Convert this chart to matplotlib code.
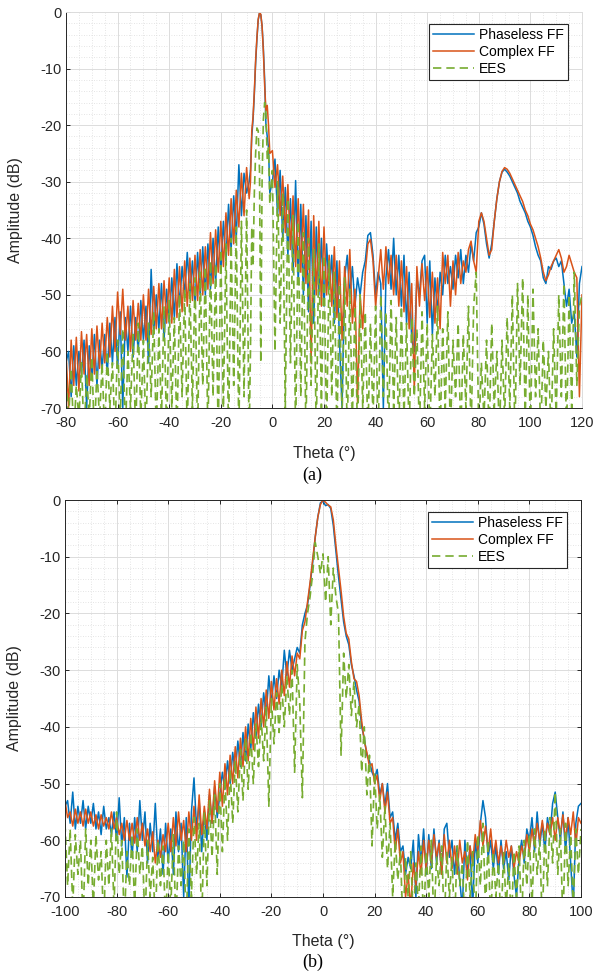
import numpy as np
import matplotlib
matplotlib.use('Agg')
import matplotlib.pyplot as plt
from matplotlib.ticker import MultipleLocator

plt.rcParams['font.family'] = ['Liberation Sans', 'DejaVu Sans']
plt.rcParams['axes.unicode_minus'] = False

# ---------------- panel (a): theta -80..120, 1 deg steps ----------------
theta_a = np.arange(-80, 121)
# extra half-degree samples across the main beam
theta_a_fine = [-8.5, -7.5, -6.5, -5.5, -4.5, -3.5, -2.5, -1.5]

phaseless_a = [
    -62, -60, -68, -59, -66, -60, -64, -58, -70, -59,          # -80
    -65, -57, -66, -58, -63, -57, -64, -55, -62, -54,          # -70
    -63, -53, -70, -54, -60, -52, -61, -54, -60, -51,          # -60
    -58, -52, -62, -45.5, -57, -50, -56, -48, -58, -49,        # -50
    -55, -47, -54, -44.5, -52, -45, -50, -42.5, -50, -44,      # -40
    -52, -42.5, -50, -41.5, -50, -41, -49, -40, -48, -38,      # -30
    -46, -37, -44, -34, -42, -32.5, -40, -27, -36, -28.5,      # -20
    -32, -30, -22, -14.5, -4.8, -0.2, -2.5, -12, -22, -32,     # -10
    -30, -26, -36, -28, -40, -31, -43, -33, -46, -29.8,        # 0
    -48, -34, -50, -36, -53, -37, -55, -38, -50, -40,          # 10
    -52, -41, -49, -43, -55, -44, -58, -70, -47, -43,          # 20
    -50, -45, -52, -47, -50, -46, -44, -39.5, -39, -43,        # 30
    -50, -46, -48, -70, -47, -42, -49, -40, -50, -43,          # 40
    -52, -43, -55, -46, -58, -60, -47, -50, -44, -43,          # 50
    -55, -44, -57, -47, -53, -46, -50, -43, -48, -45,          # 60
    -49, -43, -47, -42, -48, -43, -46, -41, -44, -39,          # 70
    -38, -35.5, -37.5, -41, -43.5, -41, -37, -33, -30, -28.3,  # 80
    -27.8, -28.3, -29, -30, -31, -32, -33.5, -34.5, -35.5, -37,  # 90
    -38, -39.5, -41.5, -43, -44, -47, -48, -45, -45.5, -44,    # 100
    -43.5, -45, -44, -48, -52, -49, -55, -53, -61, -48,        # 110
    -45]                                                       # 120
phaseless_a_fine = [-28, -19, -9, -1.4, -0.5, -6.5, -20, -24]

complex_a = [
    -60, -70, -58, -66, -57.5, -67, -56.5, -64, -57, -66,      # -80
    -56, -64, -55.5, -63, -55, -62, -54, -61, -52, -60,        # -70
    -49.5, -57, -49, -58, -52, -60, -51, -58, -51.5, -58,      # -60
    -50, -58, -49, -57, -48.5, -56, -48, -56, -47.5, -55,      # -50
    -47, -55, -45.5, -54, -45, -53, -44, -52, -43.5, -51,      # -40
    -43, -51, -42, -50, -41.5, -49, -39, -48, -38.5, -46,      # -30
    -37, -45, -35.5, -43, -33, -41, -31.5, -38, -28.5, -36,    # -20
    -27.5, -33, -21, -14, -4.5, -0.1, -2.5, -13, -16.5, -25,   # -10
    -24.5, -31, -27, -36, -29, -39, -30.5, -42, -32.5, -45,    # 0
    -33, -46, -34, -48, -35, -62, -36, -50, -37, -52,          # 10
    -38, -50, -43, -52, -41.5, -54, -44, -58, -45, -52,        # 20
    -42, -55, -49, -69, -50, -56, -46, -41, -40.2, -44,        # 30
    -52, -47, -42, -49, -41.5, -48, -43, -50, -43, -52,        # 40
    -44, -53, -45, -56, -48, -67, -45, -52, -44.5, -51,        # 50
    -45, -54, -46, -55, -47, -56, -42.5, -48, -43, -52,        # 60
    -44, -50, -42.5, -48, -44, -46, -42, -40.5, -44, -46,      # 70
    -37, -35.5, -37, -40, -43, -42, -37, -33, -30, -28.2,      # 80
    -27.5, -27.8, -28.5, -29.5, -30.5, -31.5, -32.5, -33.5, -35, -36,  # 90
    -37.5, -38.5, -40, -41.5, -43.5, -46, -47.5, -46.5, -45, -44,      # 100
    -43, -42, -43.5, -46, -45, -43, -44.5, -46, -47, -68,      # 110
    -50]                                                       # 120
complex_a_fine = [-30, -18.5, -8.5, -1.3, -0.4, -7, -17.5, -20]

ees_a = [
    -65, -72, -63, -75, -66, -72, -62, -75, -64, -72,          # -80
    -61, -75, -63, -72, -62, -75, -60, -70, -62, -75,          # -70
    -58, -72, -56, -75, -60, -70, -57, -75, -55, -72,          # -60
    -58, -75, -55, -68, -53, -75, -56, -72, -52, -75,          # -50
    -51, -70, -54, -75, -50, -68, -49, -75, -48, -70,          # -40
    -47, -75, -46, -66, -45, -75, -44, -68, -44.5, -75,        # -30
    -42, -70, -41, -75, -40, -66, -38, -75, -37, -68,          # -20
    -35, -75, -38, -32, -20.5, -28, -30, -16, -26, -34,        # -10
    -28, -60, -30, -55, -32, -70, -33, -62, -36, -75,          # 0
    -37, -68, -39, -75, -40, -66, -42, -75, -41, -70,          # 10
    -43, -75, -44, -68, -46, -75, -48, -72, -47, -75,          # 20
    -49, -72, -52, -75, -50, -70, -53, -75, -55, -72,          # 30
    -52, -75, -50, -68, -53, -75, -51, -70, -54, -75,          # 40
    -52, -72, -55, -75, -54, -68, -56, -75, -53, -70,          # 50
    -55, -75, -57, -68, -52, -75, -56, -70, -53, -75,          # 60
    -58, -68, -55, -75, -57, -70, -52, -75, -52, -46,          # 70
    -75, -62, -72, -58, -75, -55, -70, -60, -75, -58,          # 80
    -72, -54, -70, -50, -75, -48, -66, -47, -72, -50,          # 90
    -75, -49, -68, -56, -75, -58, -70, -60, -75, -56,          # 100
    -72, -50, -68, -48, -75, -50, -70, -46, -66, -52,          # 110
    -50]                                                       # 120
ees_a_fine = [-60, -45, -25, -21, -62, -19, -18, -24]

# ---------------- panel (b): theta -100..100, 1 deg steps ----------------
theta_b = np.arange(-100, 101)

phaseless_b = [
    -54, -53, -57, -51.5, -58, -54, -57, -53, -58, -54,        # -100
    -57, -53.5, -58, -55, -59, -54, -58, -56, -59, -55,        # -90
    -60, -52.5, -61, -56, -66.5, -57, -63, -56, -62, -53,      # -80
    -60, -55, -64, -57, -62, -53.5, -63, -58, -66, -57,        # -70
    -64, -58, -66, -55, -62, -57, -70, -56, -72, -55,          # -60
    -49, -58, -53, -62, -55, -60, -52, -57, -50.5, -56,        # -50
    -52, -48, -51, -46, -50, -44.5, -48, -42.5, -47, -41,      # -40
    -46, -39.5, -44, -37.5, -42, -36, -40, -34, -38, -31,      # -30
    -36, -31, -35, -30, -33, -26.5, -31, -26.5, -30, -28,      # -20
    -26, -27, -22, -20, -18.5, -15, -11, -6.5, -3, -0.5,       # -10
    -0.2, -1, -0.8, -1.5, -4.5, -9, -13.5, -17.5, -21.5, -24,  # 0
    -25.5, -29, -31, -33.5, -35.5, -40, -42, -45, -46, -48,    # 10
    -49, -47.5, -52, -50, -54, -50, -56, -55, -60, -57,        # 20
    -62, -61, -66, -63, -65, -60, -70, -59, -64, -58,          # 30
    -66, -59, -65, -58, -64, -60, -66, -58, -57, -63,          # 40
    -60, -66, -61, -67, -72, -60, -66, -61, -72, -60,          # 50
    -64, -57, -53, -56, -63, -60, -65, -61, -66, -60,          # 60
    -65, -62, -67, -61, -66, -70, -63, -60, -64, -58,          # 70
    -60, -56, -62, -55, -61, -57, -62, -56, -59, -53.5,        # 80
    -51.5, -56, -60, -55, -62, -56, -64, -72, -57, -54,        # 90
    -53.5]                                                     # 100

complex_b = [
    -53, -56, -55, -57.5, -54.5, -57, -55, -57.5, -54.5, -57,  # -100
    -55, -57.5, -55.5, -58, -55.5, -57.5, -56, -58, -55, -58,  # -90
    -56, -59, -57, -60, -56.5, -60, -57, -60.5, -56, -60,      # -80
    -57, -61, -58, -62, -58.5, -64, -60, -63, -59, -62,        # -70
    -57, -62, -56, -61, -55, -60, -56.5, -62, -55, -60,        # -60
    -54, -60, -52, -59, -54, -58, -51, -57, -49.5, -55,        # -50
    -48, -54, -46.5, -52, -45, -50, -43.5, -49, -42, -47,      # -40
    -40, -46, -38.5, -44, -36.5, -42, -35, -40, -33.5, -38.5,  # -30
    -32, -37, -31.5, -36, -30, -34.5, -28.5, -33, -27.5, -31,  # -20
    -27, -28, -23, -21.5, -18, -14.5, -10.5, -6.5, -3, -0.8,   # -10
    0, -0.4, -0.9, -1.2, -3.5, -8, -12, -16, -20.5, -23.5,     # 0
    -24.5, -28.5, -31.5, -32, -34.5, -39, -42.5, -44.5, -47, -46.5,  # 10
    -50, -48.5, -53, -50, -55, -51.5, -57, -56, -62, -58,      # 20
    -64, -62, -70, -66, -72, -64, -68, -62, -66, -60,          # 30
    -65, -60, -64, -59, -63, -60.5, -66, -59, -64, -60,        # 40
    -65, -61, -66, -60, -64, -62, -67, -61, -64, -59,          # 50
    -62, -56.5, -61, -57.5, -62, -58, -63, -60, -64, -61,      # 60
    -64, -60, -63, -61, -65, -62, -64, -61, -63, -59,          # 70
    -62, -58, -61, -57, -60, -56.5, -60, -57, -59, -56,        # 80
    -60, -56, -59, -55.5, -60, -56, -59, -55, -61, -56,        # 90
    -57]                                                       # 100

ees_b = [
    -57, -68, -58, -72, -59, -66, -60, -75, -58, -68,          # -100
    -60, -72, -59, -67, -62, -75, -60, -68, -58, -72,          # -90
    -55, -66, -60, -75, -62, -68, -59, -72, -58, -66,          # -80
    -61, -75, -60, -70, -63, -75, -60, -68, -61, -75,          # -70
    -62, -72, -59, -75, -61, -68, -60, -75, -58, -70,          # -60
    -56, -66, -57, -75, -55, -68, -53, -63, -52, -66,          # -50
    -50, -62, -49, -60, -47.5, -57, -46, -55, -44, -53,        # -40
    -42, -51, -41, -50, -39.5, -47, -38, -46, -36.5, -54,      # -30
    -35, -43, -34, -41, -32.5, -40, -31, -38, -30, -48,        # -20
    -29, -36, -52.5, -25, -20, -17, -13, -7.5, -10, -13,       # -10
    -9.5, -18, -10, -22, -12, -17, -20, -45, -27, -35,         # 0
    -29, -38, -32, -40, -36, -48, -40, -52, -45, -61,          # 10
    -48, -58, -52, -63, -54, -65, -57, -70, -60, -67,          # 20
    -62, -75, -63, -70, -62, -75, -64, -72, -61, -75,          # 30
    -62, -70, -60, -75, -63, -68, -61, -75, -62, -70,          # 40
    -63, -75, -61, -68, -64, -75, -60, -70, -62, -75,          # 50
    -59, -68, -57, -72, -60, -75, -62, -70, -64, -75,          # 60
    -62, -72, -64, -75, -62, -70, -61, -75, -60, -68,          # 70
    -59, -72, -58, -66, -60, -75, -58, -68, -56, -64,          # 80
    -51.5, -66, -58, -75, -57, -68, -59, -72, -58, -66,        # 90
    -58]                                                       # 100

labels = ['Phaseless FF', 'Complex FF', 'EES']
colors = ['#0072BD', '#D95319', '#77AC30']


def merge(theta, vals, theta_fine=None, vals_fine=None):
    x = np.asarray(theta, dtype=float)
    y = np.asarray(vals, dtype=float)
    if theta_fine is not None:
        x = np.concatenate([x, theta_fine])
        y = np.concatenate([y, vals_fine])
    order = np.argsort(x)
    return x[order], y[order]


def draw_panel(ax, series, xlim, boxed):
    for (x, y), lab, col in zip(series, labels, colors):
        if lab == 'EES':
            ax.plot(x, y, color=col, lw=1.2, ls=(0, (5, 3)), label=lab)
        else:
            ax.plot(x, y, color=col, lw=1.1, label=lab)
    ax.set_xlim(xlim)
    ax.set_ylim(-70, 0)
    ax.xaxis.set_major_locator(MultipleLocator(20))
    ax.xaxis.set_minor_locator(MultipleLocator(5))
    ax.yaxis.set_major_locator(MultipleLocator(10))
    ax.yaxis.set_minor_locator(MultipleLocator(2))
    ax.set_axisbelow(True)
    ax.grid(True, which='major', color='#dcdcdc', lw=0.7)
    ax.grid(True, which='minor', color='#dcdcdc', lw=0.6, ls=(0, (1, 2)))
    ax.tick_params(which='major', direction='in', length=3, width=0.7,
                   labelsize=10.5, colors='#262626', top=boxed, right=boxed)
    ax.tick_params(axis='x', pad=6)
    ax.tick_params(which='minor', length=0)
    for side in ['left', 'bottom']:
        ax.spines[side].set_color('#262626')
        ax.spines[side].set_linewidth(0.7)
    for side in ['top', 'right']:
        ax.spines[side].set_color('#262626' if boxed else '#dcdcdc')
        ax.spines[side].set_linewidth(0.7)
    ax.set_xlabel('Theta (°)', fontsize=11.5, color='#262626')
    ax.set_ylabel('Amplitude (dB)', fontsize=11.5, color='#262626')
    leg = ax.legend(loc='upper right', bbox_to_anchor=(0.973, 0.97),
                    borderaxespad=0, fontsize=10, fancybox=False,
                    edgecolor='#262626', framealpha=1, handlelength=2.95,
                    handletextpad=0.35, labelspacing=0.2, borderpad=0.3)
    leg.get_frame().set_linewidth(0.8)


fig = plt.figure(figsize=(6.03, 9.73), dpi=100)
ax_a = fig.add_axes([66 / 603, 1 - 408 / 973, 516 / 603, 396 / 973])
ax_b = fig.add_axes([65 / 603, 1 - 897 / 973, 516 / 603, 397 / 973])

series_a = [merge(theta_a, phaseless_a, theta_a_fine, phaseless_a_fine),
            merge(theta_a, complex_a, theta_a_fine, complex_a_fine),
            merge(theta_a, ees_a, theta_a_fine, ees_a_fine)]
series_b = [merge(theta_b, phaseless_b),
            merge(theta_b, complex_b),
            merge(theta_b, ees_b)]

draw_panel(ax_a, series_a, (-80, 120), boxed=False)
draw_panel(ax_b, series_b, (-100, 100), boxed=True)

ax_a.xaxis.set_label_coords(0.5, -0.095)
ax_a.yaxis.set_label_coords(-0.083, 0.5)
ax_b.xaxis.set_label_coords(0.5, -0.092)
ax_b.yaxis.set_label_coords(-0.083, 0.5)

fig.text(0.518, 1 - 475 / 973, '(a)', ha='center', va='center',
         fontsize=13, family='Liberation Serif')
fig.text(0.518, 1 - 962 / 973, '(b)', ha='center', va='center',
         fontsize=13, family='Liberation Serif')

fig.savefig('out.png', dpi=100)
